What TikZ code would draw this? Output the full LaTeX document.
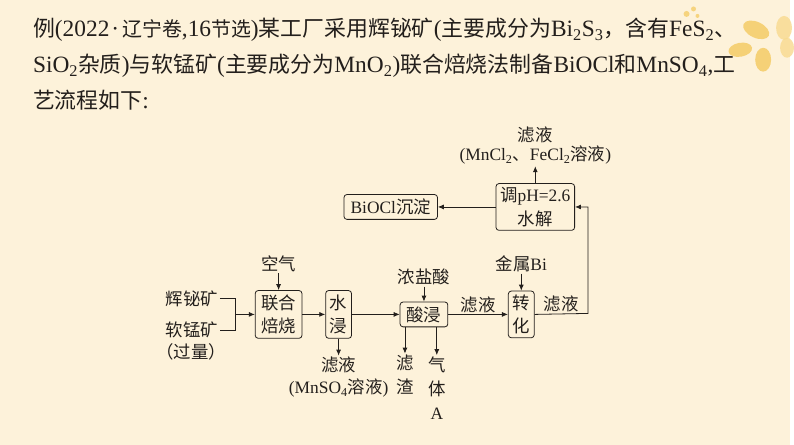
\documentclass[tikz,border=0pt]{standalone}
\usepackage{fontspec}
\setmainfont{Liberation Serif}
\newfontfamily\cjk{Noto Sans CJK SC}
\usepackage{tikz}
\usetikzlibrary{arrows.meta,positioning}
\definecolor{bgcream}{HTML}{FDF2DA}
\definecolor{ink}{HTML}{231F1C}
\definecolor{petal}{HTML}{F3C44E}
\definecolor{petallight}{HTML}{F8DA8E}
\newcommand\zh[1]{{\cjk #1}}
\newcommand\tz[1]{{\fontsize{22}{36}\selectfont\cjk #1}}
\newcommand\tzs[1]{{\fontsize{20}{36}\selectfont\cjk #1}}
\newcommand\dg{\fontsize{17.5}{24}\selectfont}

\begin{document}
\begin{tikzpicture}[x=1pt, y=-1pt, color=ink,
  box/.style={draw, rounded corners=3pt, align=center, inner sep=2pt, line width=0.8pt, font=\dg},
  lbl/.style={align=center, inner sep=1.5pt, font=\dg},
  arr/.style={-{Latex[length=6pt,width=5pt]}, line width=0.8pt},
  wire/.style={line width=0.8pt}
]
  \fill[bgcream] (0,0) rectangle (794,447);
  % flower in the corner
  \fill[petal, opacity=0.7, rotate around={-25:(760,30)}] (760,30) ellipse (14pt and 8pt);
  \fill[petal, opacity=0.7, rotate around={10:(744,50)}] (744,50) ellipse (12pt and 7pt);
  \fill[petal, opacity=0.7] (767,60) ellipse (8pt and 12pt);
  \fill[petallight, opacity=0.8] (788,28) ellipse (8pt and 12pt);
  \fill[petallight, opacity=0.8] (791,48) ellipse (7pt and 10pt);
  \fill[petal, opacity=0.65] (690,14) circle (3pt) (697,9) circle (2.5pt) (701,16) circle (2pt);

  \node[anchor=north west, align=left, inner sep=0pt, font=\fontsize{23.5}{36}\selectfont] (title) at (33,18)
    {\tz{例}(2022\kern2pt·\kern3pt\tzs{辽宁卷},16\tzs{节选})\tz{某工厂采用辉铋矿}(\tz{主要成分为}Bi\textsubscript{2}S\textsubscript{3}\tz{，}\tz{含有}FeS\textsubscript{2}\tz{、}\\
     SiO\textsubscript{2}\tz{杂质})\tz{与软锰矿}(\tz{主要成分为}MnO\textsubscript{2})\tz{联合焙烧法制备}BiOCl\tz{和}MnSO\textsubscript{4},\tz{工}\\
     \tz{艺流程如下}:};

  % main line
  \node[box, minimum width=47pt, minimum height=48pt] (roast) at (280,316) {\zh{联合}\\\zh{焙烧}};
  \node[box, minimum width=26pt, minimum height=48pt, right=23pt of roast] (leach) {\zh{水}\\\zh{浸}};
  \node[box, minimum width=48pt, minimum height=25pt, right=48pt of leach] (acid) {\zh{酸浸}};
  \node[box, minimum width=26pt, minimum height=47pt, right=60pt of acid] (conv) {\zh{转}\\\zh{化}};
  \node[box, minimum width=79pt, minimum height=47pt] (hydro) at (538,208) {\zh{调}pH=2.6\\\zh{水解}};
  \node[box, minimum width=94pt, minimum height=25pt, left=58pt of hydro] (bioc) {BiOCl\zh{沉淀}};

  % inputs and outputs
  \node[lbl] (ore1) at (193,300) {\zh{辉铋矿}};
  \node[lbl] (ore2) at (193,332) {\zh{软锰矿}};
  \node[lbl] (excess) at (192,354) {\zh{（过量）}};
  \coordinate (join) at (237,316);
  \node[lbl, above=17pt of roast] (air) {\zh{空气}};
  \node[lbl, below=17pt of leach] (filt1) {\zh{滤液}};
  \node[lbl, below=2pt of filt1] (filt1b) {(MnSO\textsubscript{4}\zh{溶液})};
  \node[lbl, above=15pt of acid] (hcl) {\zh{浓盐酸}};
  \node[lbl] (resid) at (407,377) {\zh{滤}\\\zh{渣}};
  \node[lbl] (gasA) at (439,390) {\zh{气}\\\zh{体}\\A};
  \node[lbl, above=17pt of conv] (bi) {\zh{金属}Bi};
  \node[lbl, above=17pt of hydro] (filt3b) {(MnCl\textsubscript{2}\zh{、}FeCl\textsubscript{2}\zh{溶液})};
  \node[lbl, above=0pt of filt3b] (filt3) {\zh{滤液}};
  \coordinate (turn) at (591,315);

  \draw[wire] (ore1.east) -| (join) |- (ore2.east);
  \draw[arr] (join) -- (roast);
  \draw[arr] (air) -- (roast);
  \draw[arr] (roast) -- (leach);
  \draw[arr] (leach) -- (filt1);
  \draw[arr] (leach) -- (acid);
  \draw[arr] (hcl) -- (acid);
  \draw[arr] (resid.north |- acid.south) -- (resid);
  \draw[arr] (gasA.north |- acid.south) -- (gasA);
  \draw[arr] (acid) -- node[lbl, above] {\zh{滤液}} (conv);
  \draw[arr] (bi) -- (conv);
  \draw[arr] (conv.east) -- node[lbl, above] {\zh{滤液}} (turn) |- (hydro.east);
  \draw[arr] (hydro) -- (filt3b);
  \draw[arr] (hydro) -- (bioc);
\end{tikzpicture}
\end{document}
